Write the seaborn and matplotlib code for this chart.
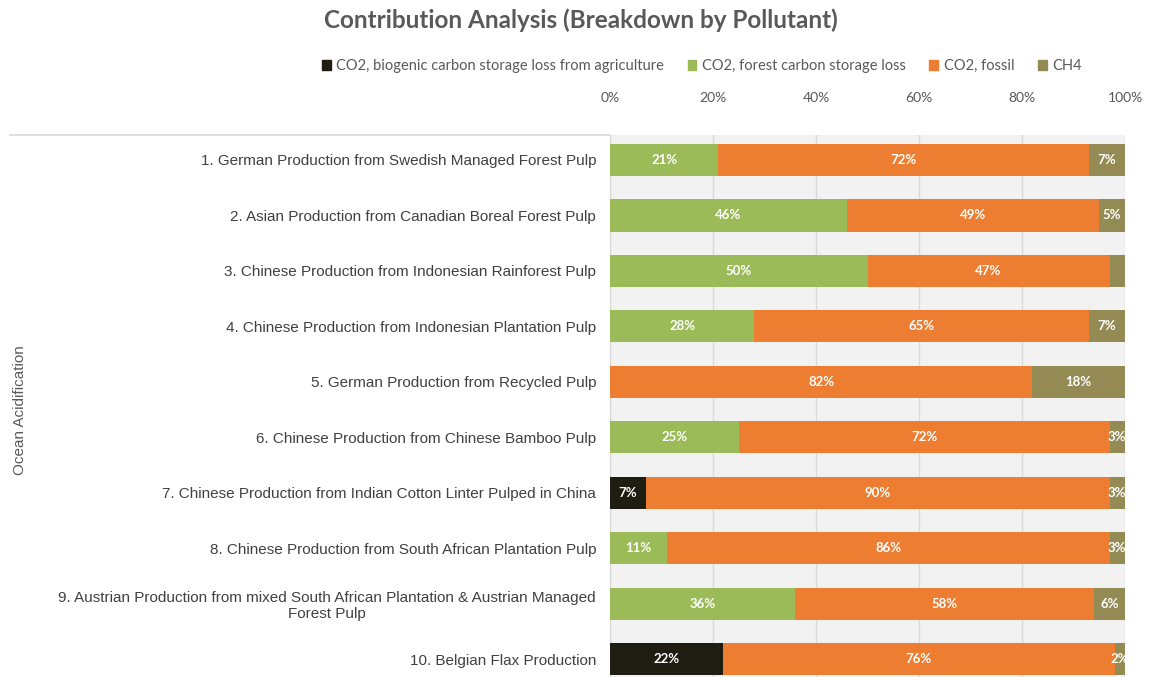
import matplotlib
matplotlib.use("Agg")
import matplotlib.pyplot as plt
from matplotlib.lines import Line2D
import pandas as pd
import seaborn as sns

products = [
    "1. German Production from Swedish Managed Forest Pulp",
    "2. Asian Production from Canadian Boreal Forest Pulp",
    "3. Chinese Production from Indonesian Rainforest Pulp",
    "4. Chinese Production from Indonesian Plantation Pulp",
    "5. German Production from Recycled Pulp",
    "6. Chinese Production from Chinese Bamboo Pulp",
    "7. Chinese Production from Indian Cotton Linter Pulped in China",
    "8. Chinese Production from South African Plantation Pulp",
    "9. Austrian Production from mixed South African Plantation & Austrian Managed\nForest Pulp",
    "10. Belgian Flax Production",
]

series = [
    "CO2, biogenic carbon storage loss from agriculture",
    "CO2, forest carbon storage loss",
    "CO2, fossil",
    "CH4",
]

agri = [0, 0, 0, 0, 0, 0, 7, 0, 0, 22]
forest = [21, 46, 50, 28, 0, 25, 0, 11, 36, 0]
fossil = [72, 49, 47, 65, 82, 72, 90, 86, 58, 76]
ch4 = [7, 5, 3, 7, 18, 3, 3, 3, 6, 2]

# CH4 label of row 3 is not shown in the original
hide_labels = {(2, "CH4")}

colors = ["#1F1D12", "#9BBB59", "#ED7D31", "#948A54"]

df = pd.DataFrame({"product": products, series[0]: agri, series[1]: forest,
                   series[2]: fossil, series[3]: ch4})

# cumulative ends, drawn from the outermost segment inward
cum = df[series].cumsum(axis=1)

fig = plt.figure(figsize=(11.53, 6.77), dpi=100)
ax = fig.add_axes([610 / 1153, 0, 515 / 1153, 542 / 677])
ax.set_facecolor("#F2F2F2")

for s, c in reversed(list(zip(series, colors))):
    sns.barplot(x=cum[s], y=df["product"], color=c, orient="h",
                width=0.58, saturation=1, ax=ax, zorder=3)

# segment labels
for i in range(len(products)):
    start = 0
    for s in series:
        v = df.loc[i, s]
        if v > 0 and (i, s) not in hide_labels:
            ax.text(start + v / 2, i, f"{v:.0f}%", ha="center", va="center",
                    color="white", fontsize=9.5, fontweight="bold",
                    family=["Lato", "DejaVu Sans"], zorder=5, clip_on=True)
        start += v

ax.set_xlim(0, 100)
ax.set_ylim(9.32, -0.45)
ax.xaxis.tick_top()
ax.set_xticks(range(0, 101, 20))
ax.set_xticklabels([f"{t}%" for t in range(0, 101, 20)],
                   fontsize=10, color="#595959", family=["Lato", "DejaVu Sans"])
ax.tick_params(axis="x", length=0, pad=22)
ax.tick_params(axis="y", length=0, pad=10)
ax.grid(axis="x", color="#D9D9D9", linewidth=1, zorder=0)
ax.set_xlabel("")
ax.set_ylabel("")
for lab in ax.get_yticklabels():
    lab.set_fontsize(11)
    lab.set_color("#404040")
    lab.set_family(["Liberation Sans Narrow", "Liberation Sans"])
    lab.set_multialignment("center")
for sp in ax.spines.values():
    sp.set_visible(False)
ax.spines["left"].set_visible(True)
ax.spines["left"].set_color("#D9D9D9")

# category axis outer line across the label area
fig.add_artist(Line2D([10 / 1153, 610 / 1153], [1 - 135 / 677] * 2,
                      color="#D9D9D9", linewidth=1.2))

fig.text(20 / 1153, 1 - 410 / 677, "Ocean Acidification", rotation=90,
         ha="center", va="center", fontsize=11, color="#595959",
         family=["Liberation Sans Narrow", "Liberation Sans"])

fig.text(581 / 1153, 1 - 20 / 677, "Contribution Analysis (Breakdown by Pollutant)",
         ha="center", va="center", fontsize=17.5, fontweight="bold",
         color="#595959", family=["Lato", "DejaVu Sans"])

handles = [plt.Rectangle((0, 0), 1, 1, color=c) for c in colors]
fig.legend(handles, series, loc="center", bbox_to_anchor=(702 / 1153, 1 - 66 / 677),
           ncol=4, frameon=False, handlelength=0.6,
           handleheight=0.7, handletextpad=0.4, columnspacing=1.6,
           labelcolor="#595959", prop={"family": ["Lato", "DejaVu Sans"], "size": 10.5})

fig.savefig("out.png", dpi=100)
